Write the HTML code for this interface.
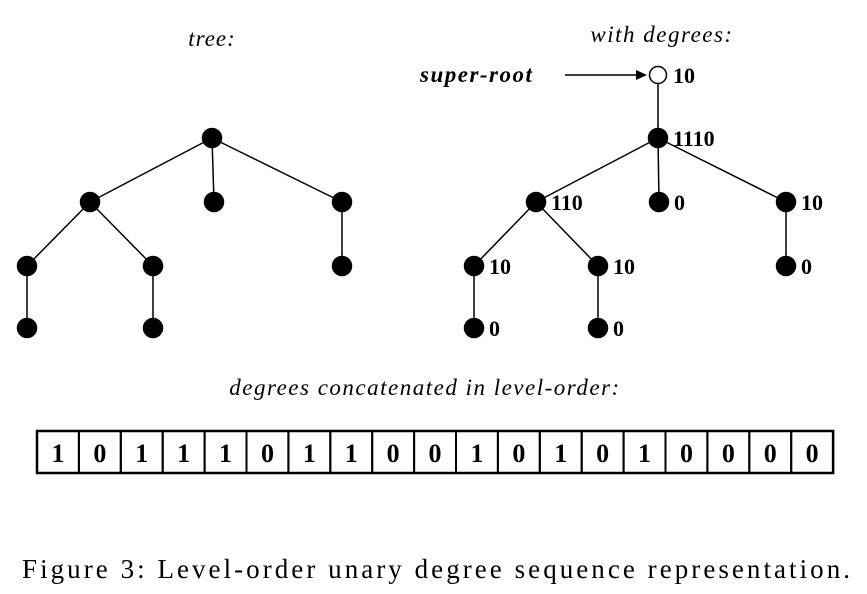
<!DOCTYPE html>
<html><head><meta charset="utf-8"><style>
html,body{margin:0;padding:0;background:#fff;}
svg{display:block;}
text{font-family:"Liberation Serif",serif;fill:#000;}
</style></head><body>
<svg id="fig" width="867" height="594" viewBox="0 0 867 594" xmlns="http://www.w3.org/2000/svg">
<text x="212" y="46" font-size="23" font-style="italic" text-anchor="middle" letter-spacing="1">tree:</text>
<text x="662" y="42" font-size="23" font-style="italic" text-anchor="middle" letter-spacing="1.5">with degrees:</text>
<text x="420" y="82" font-size="23" font-style="italic" font-weight="bold" letter-spacing="1.5">super-root</text>
<line x1="565" y1="75" x2="640" y2="75" stroke="#000" stroke-width="1.5"/>
<polygon points="647,75 636,70 636,80" fill="#000"/>
<text x="425" y="395" font-size="23" font-style="italic" text-anchor="middle" letter-spacing="1.5">degrees concatenated in level-order:</text>
<text x="22" y="578" font-size="27" textLength="828" lengthAdjust="spacing">Figure 3: Level-order unary degree sequence representation.</text>
<g id="edges"></g><g id="nodes"></g><g id="labels"></g><g id="bits"></g>
</svg>
<script>
const leftNodes=[[212,138],[90,202],[214,202],[342,202],[27,266],[153,266],[342,266],[27,328],[153,328]];
const leftEdges=[[0,1],[0,2],[0,3],[1,4],[1,5],[3,6],[4,7],[5,8]];
const rightNodes=[[658,75],[658,138],[536,202],[659,202],[786,202],[474,266],[598,266],[786,266],[474,328],[598,328]];
const rightEdges=[[0,1],[1,2],[1,3],[1,4],[2,5],[2,6],[4,7],[5,8],[6,9]];
const degreeLabels=["10","1110","110","0","10","10","10","0","0","0"];
const bits=[1,0,1,1,1,0,1,1,0,0,1,0,1,0,1,0,0,0,0];
const NS="http://www.w3.org/2000/svg";
function mk(t,a,p){const e=document.createElementNS(NS,t);for(const k in a)e.setAttribute(k,a[k]);document.getElementById(p).appendChild(e);return e;}
function drawTree(nodes,edges,prefix,openFirst){
  edges.forEach(([a,b])=>{const l=mk('line',{x1:nodes[a][0],y1:nodes[a][1],x2:nodes[b][0],y2:nodes[b][1],stroke:'#000','stroke-width':1.5},'edges');
    
    });
  nodes.forEach((n,i)=>{const open=openFirst&&i===0;
    const c=mk('circle',{cx:n[0],cy:n[1],r:open?8.5:9.5,fill:open?'#fff':'#000',stroke:'#000','stroke-width':1.5},'nodes');
    
    });
}
drawTree(leftNodes,leftEdges,'tree',false);
drawTree(rightNodes,rightEdges,'degree-tree',true);
rightNodes.forEach((n,i)=>{const t=mk('text',{x:n[0]+15,y:n[1]+8,'font-size':22,'font-weight':'bold'},'labels');
  t.textContent=degreeLabels[i];
  
  });
const bx0=37,by=431,bw=41.9,bh=42;
mk('rect',{x:bx0,y:by,width:bw*bits.length,height:bh,fill:'none',stroke:'#000','stroke-width':2.5},'bits');
bits.forEach((b,i)=>{const r=mk('rect',{x:bx0+i*bw,y:by,width:bw,height:bh,fill:'none',stroke:'#000','stroke-width':2},'bits');
  
  
  const t=mk('text',{x:bx0+i*bw+bw/2,y:by+31,'font-size':26,'font-weight':'bold','text-anchor':'middle'},'bits');
  t.textContent=String(b);
  
  });
</script>
</body></html>
